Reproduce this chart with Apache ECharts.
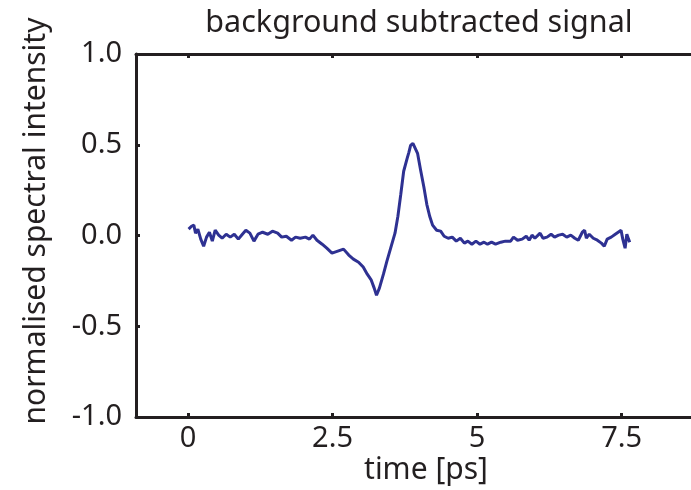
<!DOCTYPE html>
<html>
<head>
<meta charset="utf-8">
<script src="https://cdn.jsdelivr.net/npm/echarts@6/dist/echarts.min.js"></script>
<style>html,body{margin:0;padding:0;background:#fff}#c{width:691px;height:490px}</style>
</head>
<body>
<div id="c"></div>
<script>
const timePs = [0.01,0.06,0.10,0.13,0.17,0.22,0.27,0.32,0.37,0.42,0.47,0.53,0.59,0.66,0.73,0.80,0.87,0.94,1.00,1.07,1.14,1.21,1.29,1.38,1.46,1.55,1.62,1.70,1.79,1.86,1.94,2.03,2.10,2.16,2.23,2.32,2.40,2.49,2.59,2.69,2.78,2.86,2.95,3.03,3.10,3.17,3.22,3.26,3.31,3.38,3.44,3.51,3.58,3.63,3.68,3.73,3.79,3.82,3.85,3.89,3.92,3.97,4.02,4.08,4.13,4.18,4.23,4.30,4.37,4.43,4.50,4.57,4.64,4.71,4.78,4.84,4.91,4.98,5.05,5.12,5.18,5.25,5.32,5.41,5.49,5.58,5.63,5.70,5.78,5.85,5.90,5.95,6.00,6.09,6.14,6.21,6.28,6.34,6.41,6.48,6.55,6.62,6.69,6.75,6.82,6.86,6.89,6.94,7.01,7.08,7.15,7.20,7.25,7.32,7.39,7.44,7.49,7.52,7.56,7.59,7.62,7.64];
const intensity = [0.035,0.051,0.057,0.013,0.035,-0.020,-0.059,-0.009,0.018,-0.031,0.029,0.002,-0.015,0.007,-0.009,0.007,-0.020,0.007,0.029,0.013,-0.031,0.007,0.018,0.007,0.024,0.013,-0.009,-0.004,-0.026,-0.009,-0.015,-0.009,-0.020,0.002,-0.026,-0.048,-0.070,-0.097,-0.086,-0.075,-0.108,-0.130,-0.147,-0.174,-0.213,-0.246,-0.290,-0.329,-0.290,-0.213,-0.141,-0.064,0.013,0.106,0.227,0.354,0.425,0.458,0.497,0.508,0.497,0.453,0.365,0.266,0.172,0.106,0.057,0.029,0.024,-0.004,-0.015,-0.009,-0.031,-0.015,-0.042,-0.031,-0.048,-0.031,-0.048,-0.037,-0.048,-0.037,-0.048,-0.037,-0.031,-0.031,-0.009,-0.026,-0.020,-0.004,-0.026,0.002,-0.015,0.013,-0.015,-0.009,0.007,-0.009,0.002,0.007,-0.009,0.002,-0.015,-0.026,0.018,0.029,-0.015,0.007,-0.015,-0.026,-0.042,-0.059,-0.020,-0.009,0.007,0.018,0.029,-0.020,-0.070,0.007,-0.020,-0.037];
const xTicks = [0, 2.5, 5, 7.5];
const xTickLabels = ['0', '2.5', '5', '7.5'];
const titleText = 'background subtracted signal';
const xName = 'time [ps]';
const yName = 'normalised spectral intensity';

const ink = '#231f20';
const font = 'Noto Sans';
const chart = echarts.init(document.getElementById('c'), null, {renderer: 'canvas'});
const axisBase = {
  type: 'value', min: -0.9, max: 8.7,
  axisLine: {show: true, onZero: false, lineStyle: {color: ink, width: 3}},
  axisTick: {show: true, inside: true, length: 4, lineStyle: {color: ink, width: 3}, customValues: xTicks},
  splitLine: {show: false}
};
chart.setOption({
  animation: false,
  title: {
    text: titleText, left: 414, top: 3, textAlign: 'center',
    textStyle: {fontFamily: font, fontSize: 30.5, fontWeight: 'normal', color: ink}
  },
  grid: {left: 136, top: 54, width: 563, height: 363, containLabel: false},
  xAxis: [
    Object.assign({}, axisBase, {
      position: 'bottom',
      axisLabel: {show: true, margin: 7, fontFamily: font, fontSize: 29, color: ink,
        customValues: xTicks, formatter: v => xTickLabels[xTicks.indexOf(v)]}
    }),
    Object.assign({}, axisBase, {position: 'top', axisLabel: {show: false}})
  ],
  yAxis: {
    type: 'value', min: -1, max: 1, interval: 0.5,
    axisLine: {show: true, onZero: false, lineStyle: {color: ink, width: 3}},
    axisTick: {show: true, inside: true, length: 4, lineStyle: {color: ink, width: 3}},
    splitLine: {show: false},
    axisLabel: {margin: 14, fontFamily: font, fontSize: 29, color: ink, formatter: v => v.toFixed(1)}
  },
  graphic: [
    {type: 'text', x: 426, y: 470,
      style: {text: xName, fontFamily: font, fontSize: 30, fill: ink, align: 'center', verticalAlign: 'middle'}},
    {type: 'text', x: 36, y: 221, rotation: Math.PI / 2,
      style: {text: yName, fontFamily: font, fontSize: 30, fill: ink, align: 'center', verticalAlign: 'middle'}}
  ],
  series: [{
    type: 'line', xAxisIndex: 0,
    data: timePs.map((t, i) => [t, intensity[i]]),
    showSymbol: false, smooth: false,
    lineStyle: {color: '#2e3192', width: 3},
    clip: true
  }]
});
</script>
</body>
</html>
